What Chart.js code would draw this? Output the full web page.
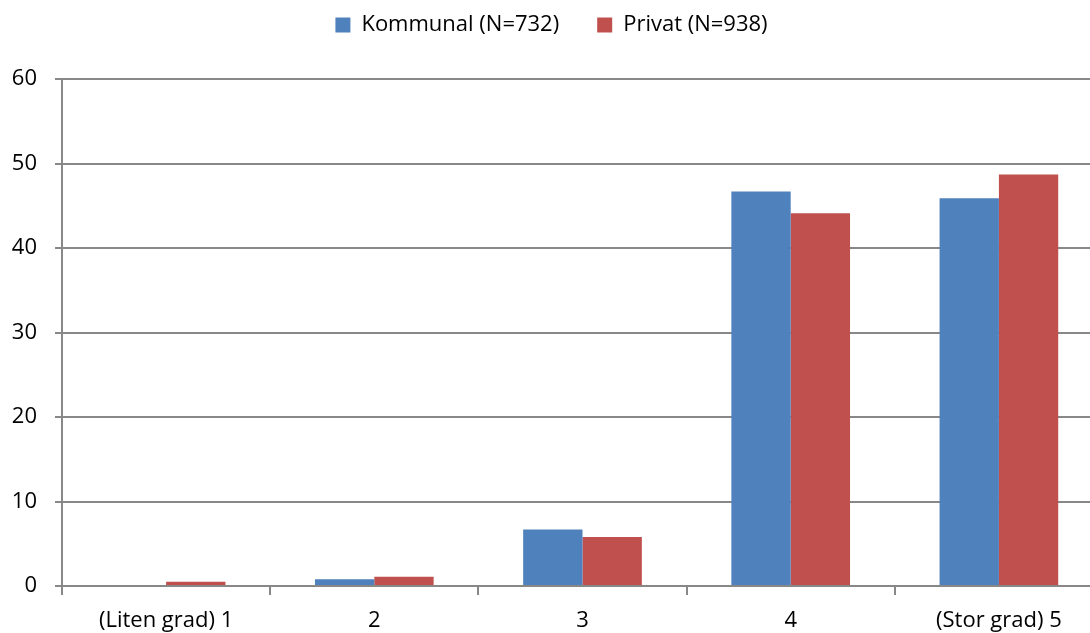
<!DOCTYPE html>
<html>
<head>
<meta charset="utf-8">
<script src="https://cdn.jsdelivr.net/npm/chart.js@4"></script>
<style>
  body { margin: 0; background: #fff; overflow: hidden; }
  #wrap { width: 1090px; height: 633px; overflow: hidden; }
</style>
</head>
<body>
<div id="wrap"><canvas id="chart1" width="1104" height="633"></canvas></div>
<script>
const categories = ['(Liten grad) 1', '2', '3', '4', '(Stor grad) 5'];
const kommunal = [0, 0.8, 6.7, 46.7, 45.9];
const privat = [0.5, 1.1, 5.8, 44.1, 48.7];
const yTicks = [0, 10, 20, 30, 40, 50, 60];

Chart.defaults.font.family = "'Open Sans', 'Liberation Sans', sans-serif";
Chart.defaults.color = '#000';

// legend box height fixed so the plot starts where the original does
const legendHeight = {
  id: 'legendHeight',
  beforeInit(chart) {
    const origFit = chart.legend.fit;
    chart.legend.fit = function() {
      origFit.bind(chart.legend)();
      this.height = 103;
    };
  }
};

let ctx = document.getElementById('chart1').getContext('2d');

let myChart = new Chart(ctx, {
  type: 'bar',
  data: {
    labels: categories,
    datasets: [{
      label: 'Kommunal (N=732)',
      data: kommunal,
      backgroundColor: '#4f81bd',
      borderWidth: 0,
      categoryPercentage: 0.57,
      barPercentage: 1
    }, {
      label: 'Privat (N=938)',
      data: privat,
      backgroundColor: '#c0504d',
      borderWidth: 0,
      categoryPercentage: 0.57,
      barPercentage: 1
    }]
  },
  options: {
    responsive: false,
    animation: false,
    layout: { padding: { top: -24, right: 1, left: 0, bottom: 0 } },
    plugins: {
      tooltip: { enabled: false },
      legend: {
        position: 'top',
        labels: {
          boxWidth: 15,
          boxHeight: 15,
          padding: 38,
          font: { size: 22 }
        }
      }
    },
    scales: {
      x: {
        afterFit: function(scale) { scale.height = 47; },
        grid: {
          offset: true,
          drawOnChartArea: false,
          color: '#888',
          lineWidth: 2,
          tickLength: 9
        },
        border: { color: '#888', width: 2 },
        ticks: { font: { size: 22 }, padding: 13 }
      },
      y: {
        min: 0,
        max: 60,
        afterFit: function(scale) { scale.width = 62; },
        afterBuildTicks: function(scale) {
          scale.ticks = yTicks.map(v => ({ value: v }));
        },
        grid: { color: '#888', lineWidth: 2, tickLength: 7 },
        border: { color: '#888', width: 2 },
        ticks: { font: { size: 22 }, padding: 18 }
      }
    }
  },
  plugins: [legendHeight]
});
</script>
</body>
</html>
